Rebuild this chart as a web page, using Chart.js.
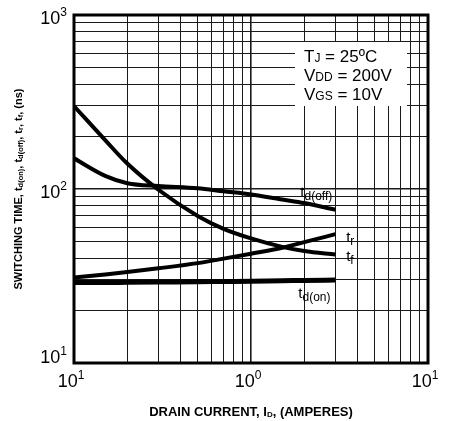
<!DOCTYPE html>
<html>
<head>
<meta charset="utf-8">
<script src="https://cdn.jsdelivr.net/npm/chart.js@4.4.1/dist/chart.umd.min.js"></script>
<style>
  html, body { margin: 0; padding: 0; background: #fff; }
  #wrap { width: 450px; height: 421px; position: relative; }
</style>
</head>
<body>
<div id="wrap"><canvas id="chart"></canvas></div>
<script>
// drain current (A) where the curves were read
const current = [0.1, 0.15, 0.2, 0.3, 0.5, 0.7, 1, 1.5, 2, 3];

// switching times in ns
const tdOff = [150, 119, 108, 104, 101, 97, 93, 87, 83, 76];
const tR = [31, 32.3, 33.3, 35, 37.5, 39.8, 42.5, 46, 49.5, 55];
const tF = [300, 191, 140, 99, 70, 59, 52, 46.5, 44, 42];
const tdOn = [29, 29, 29.1, 29.2, 29.3, 29.4, 29.5, 29.7, 29.8, 30];

// decade tick labels, [value, base, exponent]
const xTickLabels = [[0.1, '10', '1'], [1, '10', '0'], [10, '10', '1']];
const yTickLabels = [[10, '10', '1'], [100, '10', '2'], [1000, '10', '3']];

// curve names: [main, subscript, current, time]
const curveLabels = [
  ['t', 'd(off)', 1.9, 95],
  ['t', 'r', 3.45, 52],
  ['t', 'f', 3.45, 40.5],
  ['t', 'd(on)', 1.85, 25],
];

const FONT = '"Liberation Sans", Arial, Helvetica, sans-serif';

function logGrid(lo, hi) {
  const out = [];
  for (let d = lo; d < hi; d++) {
    for (let m = 1; m < 10; m++) out.push(m * Math.pow(10, d));
  }
  out.push(Math.pow(10, hi));
  return out;
}
const xGrid = logGrid(-1, 1);
const yGrid = logGrid(1, 3);

// draws a run of [text, size, bold, dy] pieces starting at x
function richText(ctx, parts, x, y) {
  let cx = x;
  parts.forEach(([t, size, bold, dy]) => {
    ctx.font = (bold ? 'bold ' : '') + size + 'px ' + FONT;
    ctx.fillText(t, cx, y + (dy || 0));
    cx += ctx.measureText(t).width;
  });
  return cx - x;
}
function richWidth(ctx, parts) {
  let w = 0;
  parts.forEach(([t, size, bold]) => {
    ctx.font = (bold ? 'bold ' : '') + size + 'px ' + FONT;
    w += ctx.measureText(t).width;
  });
  return w;
}

function powLabel(base, exp) {
  return [[base, 18, false, 0], [exp, 12, false, -8]];
}

const decor = {
  id: 'decor',
  beforeDatasetsDraw(chart) {
    const { ctx, chartArea: a } = chart;
    // conditions box knocks out the grid behind it
    ctx.save();
    ctx.fillStyle = '#fff';
    ctx.fillRect(a.right - 133, a.top + 27, 112, 64);
    ctx.fillStyle = '#000';
    ctx.textAlign = 'left';
    ctx.textBaseline = 'alphabetic';
    const bx = a.right - 124;
    richText(ctx, [['T', 17], ['J', 12], [' = 25ºC', 17]], bx, a.top + 47);
    richText(ctx, [['V', 17], ['DD', 12], [' = 200V', 17]], bx, a.top + 66);
    richText(ctx, [['V', 17], ['GS', 12], [' = 10V', 17]], bx, a.top + 85);
    ctx.restore();
  },
  afterDraw(chart) {
    const { ctx, chartArea: a } = chart;
    const xs = chart.scales.x, ys = chart.scales.y;
    ctx.save();
    ctx.fillStyle = '#000';
    ctx.textAlign = 'left';
    ctx.textBaseline = 'alphabetic';

    // frame
    ctx.strokeStyle = '#000';
    ctx.lineWidth = 3;
    ctx.strokeRect(a.left, a.top, a.right - a.left, a.bottom - a.top);

    // decade labels
    xTickLabels.forEach(([v, b, e]) => {
      const parts = powLabel(b, e);
      const w = richWidth(ctx, parts);
      richText(ctx, parts, xs.getPixelForValue(v) - w / 2 - 3, a.bottom + 24);
    });
    yTickLabels.forEach(([v, b, e], i) => {
      const parts = powLabel(b, e);
      const w = richWidth(ctx, parts);
      const py = ys.getPixelForValue(v);
      richText(ctx, parts, a.left - 7 - w, i === 0 ? py : py + 9);
    });

    // curve names
    curveLabels.forEach(([m, s, cx, cy]) => {
      const px = xs.getPixelForValue(cx), py = ys.getPixelForValue(cy);
      richText(ctx, [[m, 15], [s, 12, false, 3]], px, py + 4);
    });

    // axis titles
    const xt = [['DRAIN CURRENT, I', 13, true], ['D', 8, true, 1], [', (AMPERES)', 13, true]];
    const xw = richWidth(ctx, xt);
    richText(ctx, xt, (a.left + a.right) / 2 - xw / 2, a.bottom + 53);

    const yt = [
      ['SWITCHING TIME, t', 11, true], ['d(on)', 7.5, true, 1], [', t', 11, true], ['d(off)', 7.5, true, 1],
      [', t', 11, true], ['r', 7.5, true, 1], [', t', 11, true], ['f', 7.5, true, 1], [', (ns)', 11, true],
    ];
    const yw = richWidth(ctx, yt);
    ctx.translate(a.left - 52, (a.top + a.bottom) / 2);
    ctx.rotate(-Math.PI / 2);
    richText(ctx, yt, -yw / 2, 0);
    ctx.restore();
  }
};

const datasets = [tdOff, tR, tF, tdOn].map((vals, i) => ({
  data: current.map((c, j) => ({ x: c, y: vals[j] })),
  borderColor: '#000',
  borderWidth: i === 3 ? 5 : 4,
  pointRadius: 0,
  cubicInterpolationMode: 'monotone',
  fill: false,
}));

const gridWidth = ctx => {
  const v = ctx.tick && ctx.tick.value;
  const lg = Math.log10(v);
  return Math.abs(lg - Math.round(lg)) < 1e-6 ? 1.6 : 1;
};

new Chart(document.getElementById('chart'), {
  type: 'line',
  data: { datasets },
  options: {
    responsive: true,
    maintainAspectRatio: false,
    animation: false,
    layout: { padding: { top: 15, right: 22, left: 0, bottom: 0 } },
    plugins: { legend: { display: false }, tooltip: { enabled: false } },
    scales: {
      x: {
        type: 'logarithmic',
        min: 0.1,
        max: 10,
        afterBuildTicks: s => { s.ticks = xGrid.map(v => ({ value: v })); },
        afterFit: s => { s.height = 58; },
        ticks: { display: false, autoSkip: false },
        grid: { color: '#1a1a1a', lineWidth: gridWidth, drawTicks: false },
        border: { display: false },
      },
      y: {
        type: 'logarithmic',
        min: 10,
        max: 1000,
        afterBuildTicks: s => { s.ticks = yGrid.map(v => ({ value: v })); },
        afterFit: s => { s.width = 74; },
        ticks: { display: false, autoSkip: false },
        grid: { color: '#1a1a1a', lineWidth: gridWidth, drawTicks: false },
        border: { display: false },
      },
    },
  },
  plugins: [decor],
});
</script>
</body>
</html>
